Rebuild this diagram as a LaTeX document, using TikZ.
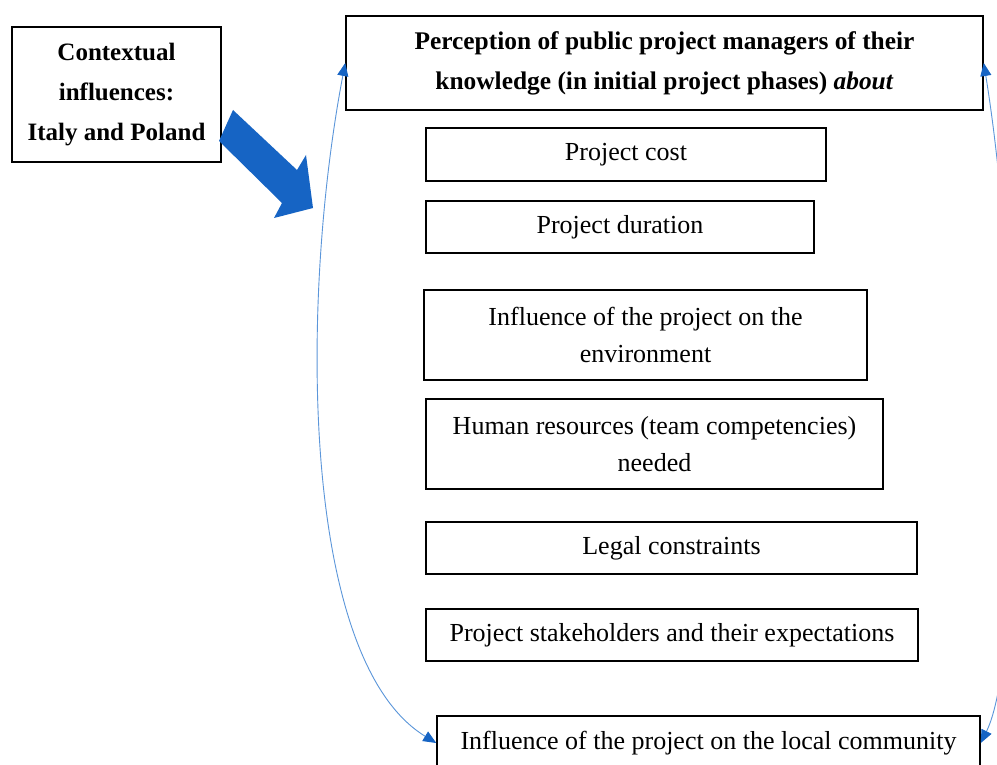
\documentclass[tikz,border=0pt]{standalone}
\usepackage{fontspec}
\setmainfont{Liberation Serif}
\usetikzlibrary{arrows.meta}

\definecolor{arrowblue}{RGB}{22,100,196}
\definecolor{linkblue}{RGB}{91,150,218}

\tikzset{
	factor/.style={draw=black, line width=1.5pt, minimum height=52pt, align=center,
		font=\fontsize{26}{37}\selectfont, inner sep=0pt},
	heading/.style={factor, font=\fontsize{25.4}{40}\selectfont\bfseries},
	link/.style={draw=linkblue, line width=0.9pt, {Triangle[length=13pt,width=11pt,color=arrowblue]}-{Triangle[length=13pt,width=11pt,color=arrowblue]}}
}

\begin{document}
\begin{tikzpicture}[x=1pt, y=-1pt]
		\clip (0,0) rectangle (997,765);
		\fill[white] (0,0) rectangle (997,765);
	
		\node[heading, minimum width=209pt, minimum height=135pt, font=\fontsize{25}{40}\selectfont\bfseries] (context) at (116.5,94.5)
			{Contextual\\influences:\\Italy and Poland};
		\node[heading, minimum width=637pt, minimum height=94pt] (perception) at (664.5,63)
			{\raisebox{-3pt}{}Perception of public project managers of their\\knowledge (in initial project phases) \textit{about}};
	
		\node[factor, minimum width=400pt, minimum height=53pt] (cost) at (626,154.5) {Project cost};
		\node[factor, minimum width=388pt] (duration) at (620,227) {Project duration};
		\node[factor, minimum width=443pt, minimum height=90pt] (environment) at (645.5,335)
			{Influence of the project on the\\environment};
		\node[factor, minimum width=457pt, minimum height=90pt] (resources) at (654.5,444)
			{Human resources (team competencies)\\needed};
		\node[factor, minimum width=491pt] (legal) at (671.5,548) {Legal constraints};
		\node[factor, minimum width=492pt] (stakeholders) at (672,635) {Project stakeholders and their expectations};
		\node[factor, minimum width=543pt, minimum height=54pt] (community) at (708.5,743)
			{Influence of the project on the local community};
	
		% block arrow from the context
		\fill[arrowblue] (233,110) -- (297,170) -- (306,155) -- (313,208)
			-- (274,218) -- (282,203) -- (219,141) -- cycle;
	
		% curved links
		\draw[link] (perception.west) .. controls (300,300) and (300,660) .. (community.west);
		\draw[link] (perception.east) .. controls (1022,300) and (1022,660) .. (community.east);
	\end{tikzpicture}
\end{document}
